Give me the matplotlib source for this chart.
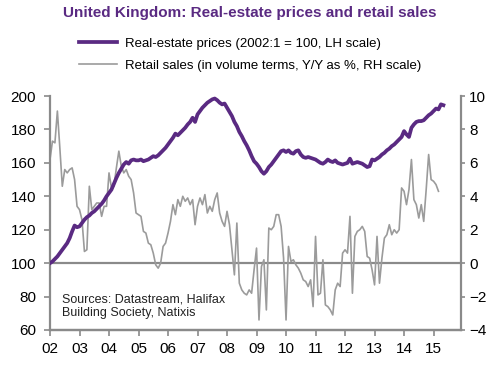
import matplotlib
matplotlib.use('Agg')
import matplotlib.pyplot as plt
import numpy as np
import pandas as pd

plt.rcParams['font.family'] = ['Liberation Sans', 'DejaVu Sans']

# Real-estate prices, monthly from 2002:1 (2002:1 = 100)
price = [
    100, 101, 102.5, 104, 106, 108, 110, 112, 115, 119, 122.5, 121.5,          # 2002
    122, 124, 126, 127.5, 128.5, 130, 131, 132.5, 134, 135.5, 137.5, 140,      # 2003
    142, 144, 147.5, 151, 154, 156.5, 159, 160.5, 159.5, 161.5, 162, 161.5,    # 2004
    161.5, 162, 161, 161.5, 162, 163, 164, 163.5, 164.5, 166, 167.5, 169,      # 2005
    171, 173, 175, 177.5, 176.5, 178, 179.5, 181, 183, 184.5, 187, 184.5,      # 2006
    189, 191, 193, 194.5, 196, 197, 198, 198.5, 197.5, 196, 195, 195.5,        # 2007
    193, 190.5, 188, 184.5, 182, 178.5, 176, 173, 170.5, 167.5, 164, 161,      # 2008
    159.5, 157.5, 155, 153.5, 155, 157.5, 159, 161, 163, 165, 167, 167.5,      # 2009
    166.5, 167.5, 166, 165.5, 167, 167.5, 165, 163.5, 163, 163.5, 163, 162.5,  # 2010
    162, 161, 160, 159.5, 160.5, 162, 161, 160.5, 161.5, 160, 159.5, 159,      # 2011
    159.5, 160, 162.5, 159.5, 160, 160.5, 160, 159.5, 158.5, 157.5, 158, 162,  # 2012
    161.5, 162.5, 163.5, 165, 166, 167.5, 168.5, 170, 171, 172.5, 174, 175.5,  # 2013
    179, 177, 175.5, 181, 183, 184.5, 185, 185, 185.5, 187, 188.5, 189.5,      # 2014
    191, 192.5, 192, 195, 194.5,                                              # 2015
]

# Retail sales, volume, Y/Y %, monthly from 2002:1
retail = [
    6.2, 7.3, 7.2, 9.1, 6.9, 4.6, 5.6, 5.4, 5.6, 5.7, 5.0, 3.4,        # 2002
    3.2, 2.6, 0.7, 0.8, 4.6, 3.2, 3.4, 3.6, 3.6, 2.8, 3.4, 3.4,        # 2003
    5.4, 4.5, 4.6, 5.7, 6.7, 5.8, 5.4, 5.6, 5.2, 5.0, 4.2, 3.0,        # 2004
    2.9, 2.8, 1.9, 1.8, 1.2, 1.1, 0.6, -0.1, -0.3, 0.0, 1.0, 1.2,      # 2005
    1.8, 2.5, 3.5, 2.9, 3.8, 3.4, 4.0, 3.7, 3.9, 3.5, 3.8, 2.3,        # 2006
    3.4, 3.9, 3.5, 4.1, 3.0, 3.4, 3.1, 3.8, 4.2, 3.0, 2.5, 2.2,        # 2007
    3.1, 2.3, 0.8, -0.7, 2.4, -1.2, -1.6, -1.8, -1.9, -1.6, -1.8, -0.4,  # 2008
    0.9, -3.4, -0.2, 0.2, -2.8, 2.1, 2.0, 2.2, 2.9, 2.9, 2.2, 0.3,     # 2009
    -3.4, 1.0, 0.1, 0.2, -0.1, -0.3, -0.6, -1.0, -1.1, -1.4, -1.0, -2.6,  # 2010
    1.6, -1.9, -1.8, 0.2, -2.5, -2.6, -2.8, -3.1, -1.6, -1.2, -1.4, 0.6,  # 2011
    0.8, 0.6, 2.8, -1.8, 1.6, 1.9, 2.0, 2.2, 1.9, 0.4, 0.3, -0.4,      # 2012
    -1.3, 1.6, -1.2, 0.3, 1.5, 1.7, 2.3, 1.7, 2.0, 1.8, 2.0, 4.5,      # 2013
    4.3, 3.5, 4.4, 6.2, 3.8, 3.5, 2.7, 3.5, 2.5, 4.4, 6.5, 5.0,        # 2014
    4.9, 4.7, 4.3,                                                     # 2015
]

years = list(range(2002, 2016))
year_labels = ['02', '03', '04', '05', '06', '07', '08', '09', '10',
               '11', '12', '13', '14', '15']

purple = '#5a2a82'
grey_line = '#9b9b9b'
axis_grey = '#8a8a8a'

def to_decimal(n):
    d = pd.date_range('2002-01-01', periods=n, freq='MS')
    return d.year + (d.month - 1) / 12.0

x_price = to_decimal(len(price))
x_retail = to_decimal(len(retail))

fig = plt.figure(figsize=(5.0, 3.69), dpi=100)
ax = fig.add_axes([0.1, 0.1057, 0.822, 0.6341])
ax2 = ax.twinx()

ax.set_zorder(ax2.get_zorder() + 1)
ax.patch.set_visible(False)

ax2.axhline(0, color=axis_grey, lw=1.6, zorder=1)
l2, = ax2.plot(x_retail, retail, color=grey_line, lw=1.2, zorder=2,
               label='Retail sales (in volume terms, Y/Y as %, RH scale)')
l1, = ax.plot(x_price, price, color=purple, lw=2.7, zorder=3,
              label='Real-estate prices (2002:1 = 100, LH scale)')

ax.set_xlim(2002, 2015.93)
ax.set_ylim(60, 200)
ax2.set_ylim(-4, 10)
ax.set_yticks(range(60, 201, 20))
ax2.set_yticks(range(-4, 11, 2))
ax.set_xticks(years)
ax.set_xticklabels(year_labels)

for a in (ax, ax2):
    a.spines['top'].set_visible(False)
    for s in ('left', 'right', 'bottom'):
        a.spines[s].set_color(axis_grey)
        a.spines[s].set_linewidth(1.6)
ax.spines['right'].set_visible(False)
ax2.spines['left'].set_visible(False)

ax.tick_params(axis='y', direction='out', length=4, width=1.2, color=axis_grey,
               labelsize=11, pad=6)
ax.tick_params(axis='x', direction='out', length=4, width=1.2, color=axis_grey,
               labelsize=11, pad=5)
ax2.tick_params(axis='y', direction='out', length=3, width=1.2, color=axis_grey,
                labelsize=11, pad=3)

fig.text(0.5, 0.965, 'United Kingdom: Real-estate prices and retail sales',
         ha='center', va='center', fontsize=11, fontweight='bold', color=purple)

fig.legend(handles=[l1, l2], loc='upper left', bbox_to_anchor=(0.158, 0.898),
           frameon=False, fontsize=9.5, borderpad=0, borderaxespad=0,
           handlelength=2.9, handletextpad=0.6, labelspacing=0.75)

ax.text(0.028, 0.155, 'Sources: Datastream, Halifax\nBuilding Society, Natixis',
        transform=ax.transAxes, ha='left', va='top', fontsize=9, color='#222222',
        linespacing=1.15)

fig.savefig('out.png', dpi=100)
